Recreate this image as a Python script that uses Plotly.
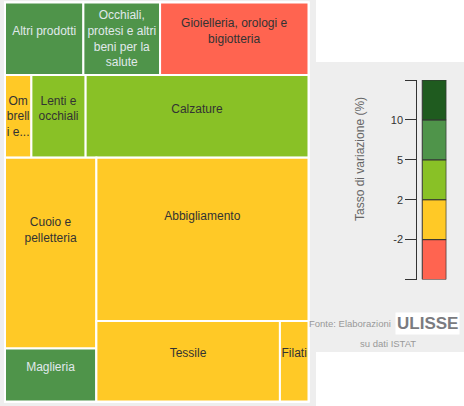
import plotly.graph_objects as go

W, H = 464, 406

# ---- data -------------------------------------------------------------
categories = ["Altri prodotti", "Occhiali, protesi e altri beni per la salute",
              "Gioielleria, orologi e bigiotteria", "Ombrelli e...", "Lenti e occhiali",
              "Calzature", "Cuoio e pelletteria", "Maglieria", "Abbigliamento",
              "Tessile", "Filati"]
display_text = ["Altri prodotti", "Occhiali,<br>protesi e altri<br>beni per la<br>salute",
                "Gioielleria, orologi e<br>bigiotteria", "Om<br>brell<br>i e...",
                "Lenti e<br>occhiali", "Calzature", "Cuoio e<br>pelletteria", "Maglieria",
                "Abbigliamento", "Tessile", "Filati"]
weights = [4.7, 4.6, 8.9, 1.8, 3.7, 15.2, 14.4, 4.0, 28.6, 12.2, 1.9]
rates = [7.1, 6.3, -4.5, 0.8, 3.4, 2.9, 1.2, 5.6, -0.6, 0.4, 1.5]
# labels sit a little above the tile centre in the original
label_lift = [1, 0, 1, 0, 1, 1, 3, 1, 3, 1, 1]

# layout grouping of the original tiling (rows / columns), in drawing order
tree_order = ["root", "g1", 0, 1, 2, "g2", 3, 4, 5, "g3", "g3L", 6, 7,
              "g3R", 8, "g3RB", 9, 10]
group_parent = {"root": "", "g1": "root", "g2": "root", "g3": "root",
                "g3L": "g3", "g3R": "g3", "g3RB": "g3R"}
leaf_parent = ["g1", "g1", "g1", "g2", "g2", "g2", "g3L", "g3L", "g3R", "g3RB", "g3RB"]

# colour classes
bin_edges = [-2, 2, 5, 10]
bin_labels = ["-2", "2", "5", "10"]
bin_colors = ["#ff6450", "#ffc926", "#89c126", "#4f944a", "#1f5b1f"]
bin_textcolors = ["#333333", "#333333", "#333333", "#e0e9ec", "#e0e9ec"]


def bin_of(v):
    k = 0
    for e in bin_edges:
        if v >= e:
            k += 1
    return k


ids, labels, parents, values, texts, colors, tcolors = [], [], [], [], [], [], []
for node in tree_order:
    if isinstance(node, str):
        ids.append(node); labels.append(""); parents.append(group_parent[node])
        values.append(0); texts.append(""); colors.append("rgba(0,0,0,0)")
        tcolors.append("#333333")
    else:
        b = bin_of(rates[node])
        ids.append(f"c{node}"); labels.append(categories[node])
        parents.append(leaf_parent[node]); values.append(weights[node])
        texts.append(display_text[node] + "<br>\u00a0" * label_lift[node])
        colors.append(bin_colors[b])
        tcolors.append(bin_textcolors[b])

FONT = "Liberation Sans, Arial, sans-serif"

fig = go.Figure()
fig.add_trace(go.Treemap(
    ids=ids, labels=labels, parents=parents, values=values,
    branchvalues="remainder", sort=False,
    text=texts, textinfo="text", textposition="middle center",
    textfont=dict(family=FONT, size=12, color=tcolors),
    marker=dict(colors=colors, line=dict(color="white", width=2),
                pad=dict(t=0, l=0, r=0, b=0)),
    tiling=dict(packing="dice-slice", pad=0),
    pathbar=dict(visible=False),
    domain=dict(x=[5 / W, 308.5 / W], y=[1 - 401.5 / H, 1 - 2.5 / H]),
    hoverinfo="label",
))

# ---- legend (colour classes) -----------------------------------------
n = len(bin_colors)
fig.add_trace(go.Bar(
    x=[0] * n, y=[1] * n, base=list(range(n)), width=0.82,
    marker=dict(color=bin_colors, line=dict(color="#333333", width=1)),
    showlegend=False, hoverinfo="skip",
))

fig.update_layout(
    width=W, height=H,
    margin=dict(l=0, r=0, t=0, b=0),
    paper_bgcolor="white", plot_bgcolor="rgba(0,0,0,0)",
    showlegend=False,
    uniformtext=dict(minsize=12, mode="show"),
    font=dict(family=FONT, color="#333333"),
    xaxis=dict(domain=[417.3 / W, 446.5 / W], range=[-0.58, 0.42],
               visible=False, fixedrange=True),
    yaxis=dict(domain=[1 - 279.5 / H, 1 - 80 / H], range=[0, n],
               showline=True, linecolor="#333333", linewidth=1,
               ticks="outside", ticklen=11, tickcolor="#333333", tickwidth=1,
               tickvals=list(range(n + 1)),
               ticktext=[""] + bin_labels + [""],
               tickfont=dict(family=FONT, size=11, color="#333333"),
               showgrid=False, zeroline=False, fixedrange=True),
    shapes=[
        dict(type="rect", xref="paper", yref="paper", x0=0, x1=316 / W, y0=0, y1=1,
             fillcolor="#eeeeee", line=dict(width=0), layer="below"),
        dict(type="rect", xref="paper", yref="paper", x0=316 / W, x1=1,
             y0=1 - 352 / H, y1=1 - 62 / H,
             fillcolor="#eeeeee", line=dict(width=0), layer="below"),
    ],
    annotations=[
        dict(text="Tasso di variazione (%)", textangle=-90, xref="paper", yref="paper",
             x=360 / W, y=1 - 159 / H, xanchor="center", yanchor="middle",
             showarrow=False, font=dict(family=FONT, size=12, color="#666666")),
        dict(text="Fonte: Elaborazioni", xref="paper", yref="paper",
             x=393 / W, y=1 - 323 / H, xanchor="right", yanchor="middle",
             showarrow=False, font=dict(family=FONT, size=9.5, color="#999999")),
        dict(text="<b>ULISSE</b>", xref="paper", yref="paper",
             x=427 / W, y=1 - 323 / H, xanchor="center", yanchor="middle",
             showarrow=False, bgcolor="white", borderpad=1,
             font=dict(family=FONT, size=17, color="#7a7b80")),
        dict(text="su dati ISTAT", xref="paper", yref="paper",
             x=387.5 / W, y=1 - 343 / H, xanchor="center", yanchor="middle",
             showarrow=False, font=dict(family=FONT, size=9.5, color="#999999")),
    ],
)

fig.write_html("out.html", config={"displayModeBar": False},
               post_script="document.body.style.margin='0';"
                           "document.body.style.overflow='hidden';")
